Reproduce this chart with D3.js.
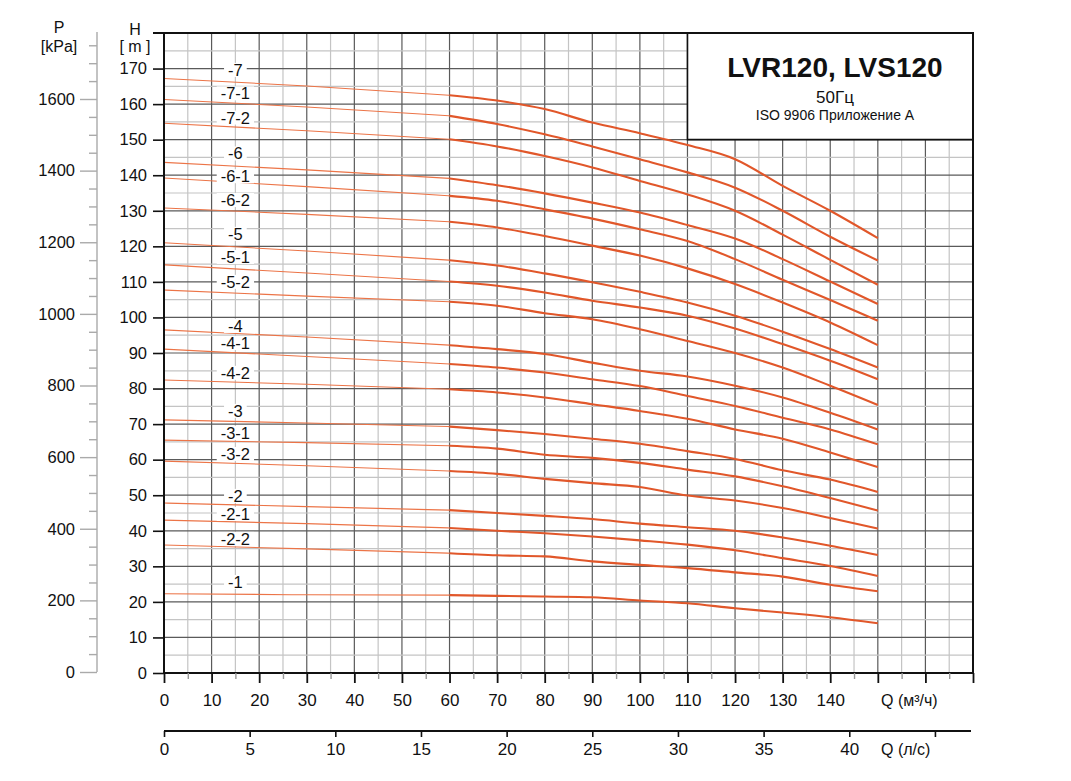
<!DOCTYPE html>
<html>
<head>
<meta charset="utf-8">
<script src="https://cdn.jsdelivr.net/npm/d3@7"></script>
<style>
  body { margin: 0; background: #fff; }
  svg text { font-family: "Liberation Sans", Arial, sans-serif; fill: #111; }
</style>
</head>
<body>
<svg id="chart" width="1071" height="781"></svg>
<script>
// ==========================================================================
// DATA (read off the LVR120 / LVS120 curve sheet)
// ==========================================================================

// flow points, m3/h
var flowQ = [0, 30, 60, 70, 80, 90, 100, 110, 120, 130, 140, 150];

// head, m
var head7   = [167.2, 165.1, 162.5, 161.0, 158.6, 154.8, 151.8, 148.5, 144.5, 137.0, 130.0, 122.3];
var head7_1 = [161.3, 159.2, 156.7, 154.4, 151.5, 148.1, 144.5, 140.8, 136.5, 130.0, 122.7, 116.0];
var head7_2 = [154.6, 152.5, 150.1, 148.1, 145.4, 142.2, 138.4, 134.6, 130.0, 123.3, 116.2, 109.2];
var head6   = [143.6, 141.5, 139.1, 137.2, 134.9, 132.3, 129.5, 126.0, 122.2, 116.4, 110.1, 103.8];
var head6_1 = [139.2, 136.8, 134.2, 132.8, 130.4, 127.8, 124.8, 121.5, 116.4, 110.6, 104.9, 99.1];
var head6_2 = [130.8, 129.0, 126.9, 125.3, 122.9, 120.2, 117.4, 113.8, 109.4, 104.2, 98.6, 92.2];
var head5   = [121.0, 118.7, 116.1, 114.6, 112.4, 109.9, 107.2, 104.2, 100.5, 96.0, 91.1, 85.9];
var head5_1 = [114.8, 112.5, 110.1, 108.9, 107.0, 104.7, 102.8, 100.5, 96.9, 92.5, 87.8, 82.6];
var head5_2 = [107.7, 106.0, 104.4, 103.3, 101.2, 99.5, 96.7, 93.4, 90.0, 85.9, 80.8, 75.4];
var head4   = [96.5, 94.5, 92.2, 91.1, 89.7, 87.3, 85.0, 83.4, 80.8, 77.5, 73.2, 68.5];
var head4_1 = [91.1, 89.0, 86.9, 85.9, 84.5, 82.6, 80.7, 77.9, 75.1, 71.8, 68.5, 64.3];
var head4_2 = [82.4, 81.2, 79.8, 78.9, 77.5, 75.6, 73.7, 71.5, 68.5, 65.9, 62.0, 57.9];
var head3   = [71.2, 70.3, 69.3, 68.3, 67.2, 65.9, 64.5, 62.4, 60.2, 57.0, 54.4, 50.9];
var head3_1 = [65.5, 64.8, 63.9, 63.1, 61.4, 60.5, 59.1, 57.2, 55.3, 52.5, 49.2, 45.7];
var head3_2 = [59.6, 58.3, 56.8, 56.0, 54.6, 53.4, 52.3, 49.9, 48.5, 46.4, 43.6, 40.6];
var head2   = [47.8, 46.8, 45.8, 45.0, 44.2, 43.3, 42.0, 41.0, 40.0, 38.1, 35.8, 33.2];
var head2_1 = [43.0, 42.0, 40.8, 40.0, 39.3, 38.4, 37.3, 36.1, 34.5, 32.3, 30.1, 27.3];
var head2_2 = [36.0, 34.9, 33.7, 33.1, 32.8, 31.4, 30.4, 29.5, 28.3, 27.1, 24.8, 23.0];
var head1   = [22.3, 22.0, 21.9, 21.7, 21.5, 21.3, 20.4, 19.6, 18.2, 17.0, 15.7, 14.0];

var curveNames = ["-7", "-7-1", "-7-2", "-6", "-6-1", "-6-2", "-5", "-5-1", "-5-2",
                  "-4", "-4-1", "-4-2", "-3", "-3-1", "-3-2", "-2", "-2-1", "-2-2", "-1"];
var curveHeads = [head7, head7_1, head7_2, head6, head6_1, head6_2, head5, head5_1, head5_2,
                  head4, head4_1, head4_2, head3, head3_1, head3_2, head2, head2_1, head2_2, head1];

// where the curve names sit (Q in m3/h, H in m)
var labelQ = 15;
var labelH = [169.6, 163.0, 156.2, 146.1, 139.7, 133.0, 123.5, 117.0, 110.0,
              97.6, 92.8, 84.4, 73.7, 67.5, 61.6, 49.8, 44.7, 37.7, 25.6];

// tick labels
var qTicks   = [0, 10, 20, 30, 40, 50, 60, 70, 80, 90, 100, 110, 120, 130, 140];
var lpsTicks = [0, 5, 10, 15, 20, 25, 30, 35, 40];
var hTicks   = [0, 10, 20, 30, 40, 50, 60, 70, 80, 90, 100, 110, 120, 130, 140, 150, 160, 170];
var pTicks   = [0, 200, 400, 600, 800, 1000, 1200, 1400, 1600];

var titleText = "LVR120, LVS120";
var freqText  = "50Гц";
var normText  = "ISO 9906 Приложение А";

// ==========================================================================
// D3 MAIN
// ==========================================================================

function drawChart() {
  var svg = d3.select("#chart");
  var left = 164, right = 973, top = 33, bottom = 673;
  var curveColor = "#e1572a";

  var x = d3.scaleLinear().domain([0, 170]).range([left, right]);
  var xLps = d3.scaleLinear().domain([0, 170 / 3.6]).range([left, right]);
  var y = d3.scaleLinear().domain([0, 180]).range([bottom, top]);
  var p = d3.scaleLinear().domain([0, 1600]).range([672, 99]);

  // grid
  var grid = svg.append("g");
  grid.selectAll("line.v").data(d3.range(5, 170, 5)).enter().append("line")
    .attr("x1", d => x(d)).attr("x2", d => x(d))
    .attr("y1", top).attr("y2", bottom)
    .attr("stroke", d => d % 10 == 0 ? "#5a5a5a" : "#c4c4c4")
    .attr("stroke-width", 1.2);
  grid.selectAll("line.h").data(d3.range(5, 180, 5)).enter().append("line")
    .attr("x1", left).attr("x2", right)
    .attr("y1", d => y(d)).attr("y2", d => y(d))
    .attr("stroke", d => d % 10 == 0 ? "#5a5a5a" : "#c4c4c4")
    .attr("stroke-width", 1.2);

  // title box
  svg.append("rect").attr("x", x(110)).attr("y", top)
    .attr("width", right - x(110)).attr("height", y(150) - top)
    .attr("fill", "#fff");
  svg.append("path")
    .attr("d", "M" + x(110) + "," + top + "V" + y(150) + "H" + right)
    .attr("fill", "none").attr("stroke", "#111").attr("stroke-width", 1.6);
  svg.append("text").attr("x", 835).attr("y", 77).attr("text-anchor", "middle")
    .attr("font-size", 28).attr("font-weight", "bold").text(titleText);
  svg.append("text").attr("x", 835).attr("y", 103).attr("text-anchor", "middle")
    .attr("font-size", 17).text(freqText);
  svg.append("text").attr("x", 835).attr("y", 120).attr("text-anchor", "middle")
    .attr("font-size", 14).text(normText);

  // curve labels with white knock-out
  var labels = svg.append("g");
  curveNames.forEach(function(name, i) {
    var t = labels.append("text")
      .attr("x", x(labelQ)).attr("y", y(labelH[i]))
      .attr("dy", "0.36em").attr("text-anchor", "middle")
      .attr("font-size", 16.5).text(name);
    var bb = t.node().getBBox();
    labels.insert("rect", "text")
      .attr("x", bb.x - 4).attr("y", bb.y + 2)
      .attr("width", bb.width + 8).attr("height", bb.height - 4)
      .attr("fill", "#fff");
  });

  // curves: thin up to 60 m3/h, heavier beyond
  var line = d3.line()
    .x(d => x(d[0])).y(d => y(d[1]))
    .curve(d3.curveMonotoneX);
  var curves = svg.append("g").attr("fill", "none");
  curveHeads.forEach(function(heads) {
    var pts = flowQ.map((q, j) => [q, heads[j]]);
    curves.append("path").datum(pts.filter(d => d[0] <= 60))
      .attr("d", line).attr("stroke", "#ec7447").attr("stroke-width", 1.1);
    curves.append("path").datum(pts.filter(d => d[0] >= 60))
      .attr("d", line).attr("stroke", curveColor).attr("stroke-width", 2.1);
  });
  labels.raise();

  // frame
  svg.append("path")
    .attr("d", "M" + (left - 11) + "," + top + "H" + right + "V" + bottom + "H" + left + "V" + top)
    .attr("fill", "none").attr("stroke", "#111").attr("stroke-width", 2);

  // H axis
  var hAxis = svg.append("g").attr("transform", "translate(" + left + ",0)")
    .call(d3.axisLeft(y).tickValues(hTicks).tickSize(11).tickPadding(6));
  hAxis.select(".domain").remove();
  hAxis.selectAll("line").attr("stroke", "#111").attr("stroke-width", 1.6);
  hAxis.selectAll("text").attr("font-size", 16.5).attr("font-family", null);

  // Q axis m3/h
  var qAxis = svg.append("g").attr("transform", "translate(0," + bottom + ")")
    .call(d3.axisBottom(x).tickValues(d3.range(0, 171, 10)).tickSize(10).tickPadding(11)
      .tickFormat(d => qTicks.indexOf(d) >= 0 ? d : ""));
  qAxis.select(".domain").remove();
  qAxis.selectAll("line").attr("stroke", "#111").attr("stroke-width", 1.8);
  qAxis.selectAll("text").attr("font-size", 17).attr("font-family", null);
  var qMinor = svg.append("g").attr("transform", "translate(0," + bottom + ")")
    .call(d3.axisBottom(x).tickValues(d3.range(5, 170, 10)).tickSize(6).tickFormat(""));
  qMinor.select(".domain").remove();
  qMinor.selectAll("line").attr("stroke", "#999").attr("stroke-width", 1.4);
  svg.append("text").attr("x", 881).attr("y", 706).attr("font-size", 16).text("Q (м³/ч)");

  // Q axis l/s
  var lAxis = svg.append("g").attr("transform", "translate(0,731)")
    .call(d3.axisBottom(xLps).tickValues(d3.range(0, 46, 5)).tickSize(6).tickPadding(6)
      .tickSizeOuter(0).tickFormat(d => lpsTicks.indexOf(d) >= 0 ? d : ""));
  lAxis.select(".domain").attr("d", "M" + left + ",0H971").attr("stroke", "#111").attr("stroke-width", 1.8);
  lAxis.selectAll("line").attr("stroke", "#111").attr("stroke-width", 1.6);
  lAxis.selectAll("text").attr("font-size", 17).attr("font-family", null);
  svg.append("text").attr("x", 881).attr("y", 755).attr("font-size", 16).text("Q (л/с)");

  // P axis kPa
  svg.append("line").attr("x1", 97).attr("x2", 97).attr("y1", 32).attr("y2", p(0))
    .attr("stroke", "#aaa").attr("stroke-width", 1.4);
  var pAxis = svg.append("g").attr("transform", "translate(97,0)")
    .call(d3.axisLeft(p).tickValues(pTicks).tickSize(17).tickPadding(5).tickFormat(d3.format("d")));
  pAxis.select(".domain").remove();
  pAxis.selectAll("line").attr("stroke", "#aaa").attr("stroke-width", 1.4);
  pAxis.selectAll("text").attr("font-size", 16.5).attr("font-family", null);
  var pMinor = svg.append("g").attr("transform", "translate(97,0)")
    .call(d3.axisLeft(p).tickValues(d3.range(50, 1751, 50).filter(d => d % 200 != 0))
      .tickSize(8).tickFormat(""));
  pMinor.select(".domain").remove();
  pMinor.selectAll("line").attr("stroke", "#aaa").attr("stroke-width", 1.4);

  // axis titles
  svg.append("text").attr("x", 135).attr("y", 35).attr("text-anchor", "middle").attr("font-size", 16).text("H");
  svg.append("text").attr("x", 135).attr("y", 52).attr("text-anchor", "middle").attr("font-size", 16).text("[ m ]");
  svg.append("text").attr("x", 59).attr("y", 33).attr("text-anchor", "middle").attr("font-size", 16).text("P");
  svg.append("text").attr("x", 59).attr("y", 52).attr("text-anchor", "middle").attr("font-size", 16).text("[kPa]");
}

window.onload = function() {
  drawChart();
};
</script>
</body>
</html>
